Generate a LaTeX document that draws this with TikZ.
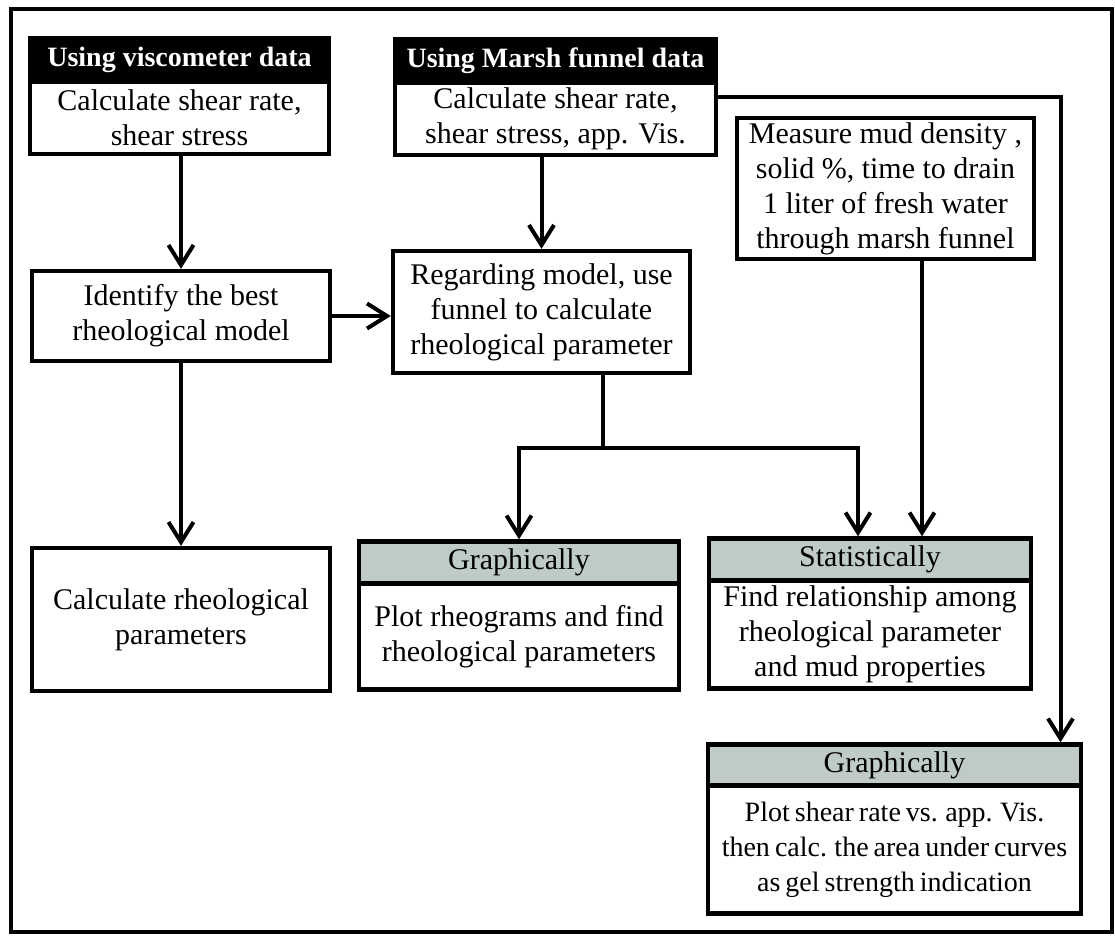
\documentclass[tikz,border=0pt]{standalone}
\usepackage{fontspec}
\setmainfont{Liberation Serif}
\usetikzlibrary{arrows.meta,positioning}

\definecolor{headgray}{RGB}{190,203,201}
\newcommand{\boxfont}{\fontsize{15}{17.5}\selectfont}
\newcommand{\headfont}{\fontsize{14}{17}\selectfont\bfseries}

\tikzset{
  box/.style={draw, line width=2.2pt, fill=white, align=center, inner sep=0pt, font=\boxfont},
  blackhead/.style={box, fill=black, text=white, font=\headfont},
  grayhead/.style={box, fill=headgray},
  flow/.style={line width=2pt, -{Straight Barb[length=10pt,width=12.5pt]}},
  link/.style={line width=2pt},
}

\begin{document}
\begin{tikzpicture}[x=0.5pt,y=-0.5pt]
  \useasboundingbox (0,0) rectangle (1115,937);
  % outer frame
  \draw [line width=2pt] (11,9) rectangle (1112,932);

  % Top row: data sources
  \node [box, minimum width=149.5pt, minimum height=36pt] (visBody) at (179.5,118) {Calculate shear rate,\\shear stress};
  \node [blackhead, minimum width=149.5pt, minimum height=22pt, above=-2.2pt of visBody] (visHead) {Using viscometer data};

  \node [box, minimum width=160.5pt, minimum height=36pt] (funBody) at (555.5,119) {Calculate shear rate,\\shear stress, app. Vis.};
  \node [blackhead, minimum width=160.5pt, minimum height=22pt, above=-2.2pt of funBody] (funHead) {Using Marsh funnel data};

  \node [box, minimum width=148.5pt, minimum height=70.5pt] (measure) at (885.5,188.5) {Measure mud density ,\\solid \%, time to drain\\1 liter of fresh water\\through marsh funnel};

  % Middle row
  \node [box, minimum width=149pt, minimum height=45pt] (identify) at (181,316) {Identify the best\\rheological model};
  \node [box, minimum width=148.5pt, minimum height=61pt] (regard) at (541.5,312) {Regarding model, use\\funnel to calculate\\rheological parameter};

  % Bottom row
  \node [box, minimum width=149pt, minimum height=71.5pt] (calc) at (181,619.5) {Calculate rheological\\parameters};

  \node [box, minimum width=160pt, minimum height=53pt] (graphBody) at (519,636.5) {Plot rheograms and find\\rheological parameters};
  \node [grayhead, minimum width=160pt, minimum height=21pt, above=-2.2pt of graphBody] (graphHead) {Graphically};

  \node [box, minimum width=161pt, minimum height=54pt] (statBody) at (870,634.5) {Find relationship among\\rheological parameter\\and mud properties};
  \node [grayhead, minimum width=161pt, minimum height=21pt, above=-2.2pt of statBody] (statHead) {Statistically};

  \node [box, minimum width=186.5pt, minimum height=64pt, font={\fontsize{14}{17.5}\selectfont\spaceskip=0.18em\relax}] (gelBody) at (894.5,849.5) {Plot shear rate vs. app. Vis.\\then calc. the area under curves\\as gel strength indication};
  \node [grayhead, minimum width=186.5pt, minimum height=20.5pt, above=-2.2pt of gelBody] (gelHead) {Graphically};

  % connector end points
  \coordinate (split) at (603,448);
  \coordinate (statA) at ([xshift=-6pt]statHead.north);
  \coordinate (statB) at ([xshift=26pt]statHead.north);
  \coordinate (gelIn) at ([xshift=83pt]gelHead.north);

  % Arrows
  \draw [flow] (identify.north |- visBody.south) -- (identify.north);
  \draw [flow] (regard.north |- funBody.south) -- (regard.north);
  \draw [flow] (identify.east) -- (regard.west |- identify.east);
  \draw [flow] (identify.south) -- (calc.north);
  \draw [link] (regard.south -| split) -- (split);
  \draw [flow] (split) -| (graphHead.north);
  \draw [flow] (split) -| (statA);
  \draw [flow] (statB |- measure.south) -- (statB);
  \draw [flow] ([yshift=11pt]funBody.east) -| (gelIn);
\end{tikzpicture}
\end{document}
